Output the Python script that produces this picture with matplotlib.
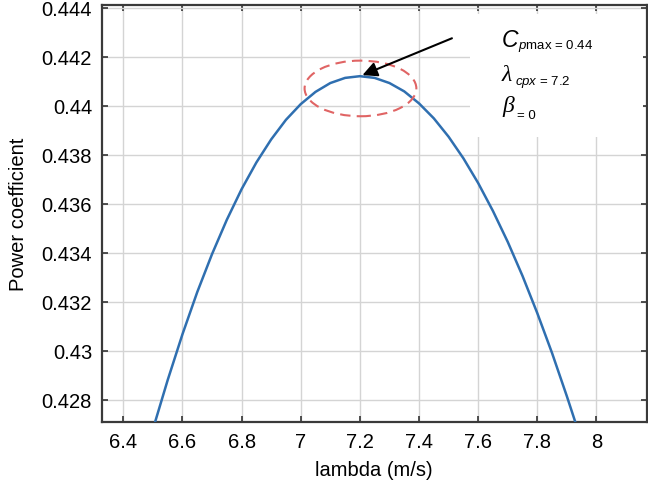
import matplotlib
matplotlib.use("Agg")
import matplotlib.pyplot as plt
from matplotlib.patches import Ellipse, Rectangle

# values
lam = [6.507, 6.55, 6.60, 6.65, 6.70, 6.75, 6.80, 6.85, 6.90, 6.95,
       7.00, 7.05, 7.10, 7.15, 7.20, 7.25, 7.30, 7.35, 7.40, 7.45,
       7.50, 7.55, 7.60, 7.65, 7.70, 7.75, 7.80, 7.85, 7.90, 7.929]
cp = [0.42708, 0.42881, 0.43068, 0.43240, 0.43395, 0.43535, 0.43660, 0.43769, 0.43863, 0.43943,
      0.44007, 0.44057, 0.44093, 0.44114, 0.44121, 0.44114, 0.44093, 0.44059, 0.44010, 0.43949,
      0.43874, 0.43786, 0.43685, 0.43571, 0.43445, 0.43306, 0.43154, 0.42991, 0.42815, 0.42708]

xticks = [6.4, 6.6, 6.8, 7.0, 7.2, 7.4, 7.6, 7.8, 8.0]
xticklabels = ["6.4", "6.6", "6.8", "7", "7.2", "7.4", "7.6", "7.8", "8"]
yticks = [0.428, 0.430, 0.432, 0.434, 0.436, 0.438, 0.440, 0.442, 0.444]
yticklabels = ["0.428", "0.43", "0.432", "0.434", "0.436", "0.438", "0.44", "0.442", "0.444"]

plt.rcParams["font.family"] = ["Liberation Sans", "DejaVu Sans"]
plt.rcParams["mathtext.fontset"] = "custom"
plt.rcParams["mathtext.rm"] = "Liberation Sans"
plt.rcParams["mathtext.it"] = "Liberation Sans:italic"

fig = plt.figure(figsize=(6.48, 4.89), dpi=100)
ax = fig.add_axes([0.157, 0.134, 0.841, 0.8535])

ax.plot(lam, cp, color="#2f6fb0", lw=1.8, zorder=3)

ax.set_xlim(6.327, 8.17)
ax.set_ylim(0.42708, 0.44411)
ax.set_xticks(xticks)
ax.set_xticklabels(xticklabels)
ax.set_yticks(yticks)
ax.set_yticklabels(yticklabels)
ax.grid(True, color="#d4d4d4", lw=1.0)
ax.tick_params(direction="in", length=4, width=1.2, color="#333333",
               top=True, right=True, labelsize=14.5, pad=7)
for s in ax.spines.values():
    s.set_color("#3a3a3a")
    s.set_linewidth(1.6)

ax.set_xlabel("lambda (m/s)", fontsize=14.5, labelpad=6)
ax.set_ylabel("Power coefficient", fontsize=14.5, labelpad=10)

# white box behind the annotation text
ax.add_patch(Rectangle((0.676, 0.684), 0.317, 0.294, transform=ax.transAxes,
                       facecolor="white", edgecolor="none", zorder=2))

# mark the maximum
i = cp.index(max(cp))
px, py = lam[i], cp[i]
ax.add_patch(Ellipse((px + 0.002, py - 0.0005), 0.378, 0.00227, fill=False,
                     edgecolor="#e06464", lw=1.5, linestyle=(0, (5, 3)), zorder=4))
ax.annotate("", xy=(px, py), xytext=(7.52, 0.4428),
            arrowprops=dict(arrowstyle="-|>", color="black", lw=1.5,
                            mutation_scale=22), zorder=5)

tr = ax.transAxes
ax.text(0.7345, 0.9017, "C", transform=tr, fontsize=16.5, style="italic",
        va="baseline", zorder=5)
ax.text(0.7639, 0.897, r"$p$" + "max = 0.44", transform=tr, fontsize=9.5,
        va="baseline", zorder=5)
ax.text(0.733, 0.820, "λ", transform=tr, fontsize=17, style="italic",
        family="Liberation Serif", va="baseline", zorder=5)
ax.text(0.7583, 0.8107, r"$cpx$" + " = 7.2", transform=tr, fontsize=9.5,
        va="baseline", zorder=5)
ax.text(0.7345, 0.746, "β", transform=tr, fontsize=17, style="italic",
        family="Liberation Serif", va="baseline", zorder=5)
ax.text(0.762, 0.729, "= 0", transform=tr, fontsize=9.5,
        va="baseline", zorder=5)

fig.savefig("out.png", dpi=100)
